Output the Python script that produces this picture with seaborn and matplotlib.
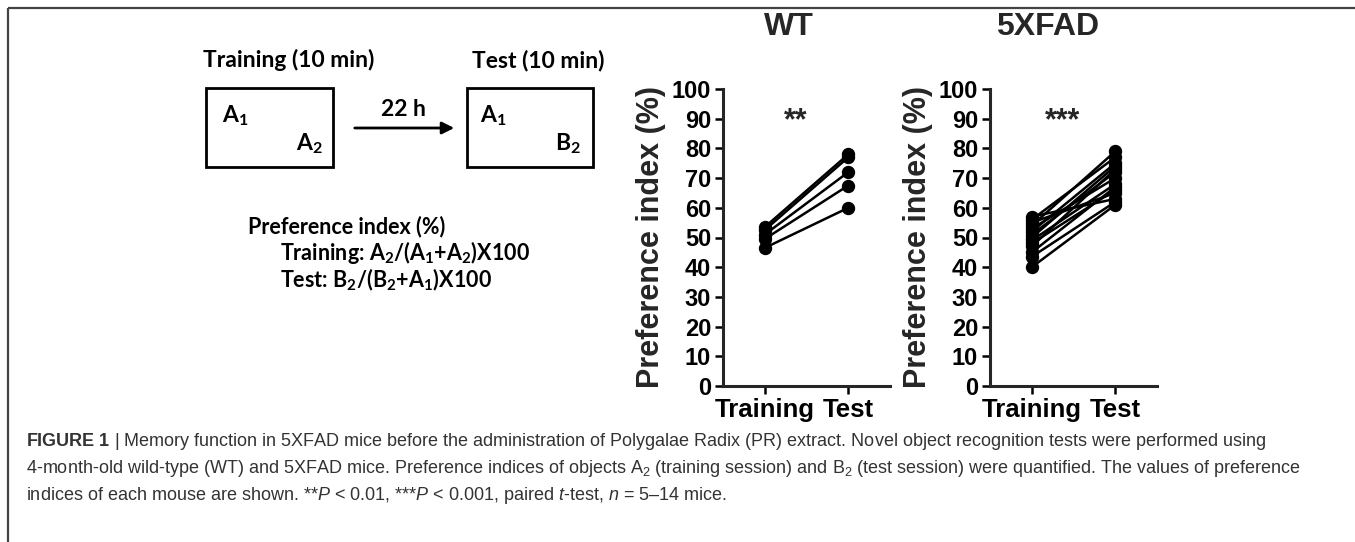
import matplotlib
matplotlib.use("Agg")
import matplotlib.pyplot as plt
from matplotlib.patches import Rectangle
import numpy as np
import pandas as pd
import seaborn as sns

# values
sessions = ["Training", "Test"]
groups = ["WT", "5XFAD"]
stars = ["**", "***"]
wt_training = [53.5, 52.5, 51.0, 49.5, 46.5]
wt_test = [78.0, 77.0, 72.0, 67.5, 60.0]
fad_training = [57.0, 56.0, 55.0, 54.0, 53.0, 52.0, 51.0, 50.0, 49.0, 48.0, 47.0, 45.0, 43.5, 40.0]
fad_test = [63.0, 77.0, 65.0, 79.0, 70.0, 75.0, 72.0, 74.0, 68.0, 66.0, 73.0, 67.0, 62.0, 61.0]
yticks = list(range(0, 101, 10))

caption_lines = [
    r"$\mathbf{FIGURE\ 1}$ | Memory function in 5XFAD mice before the administration of Polygalae Radix (PR) extract. "
    r"Novel object recognition tests were performed using",
    r"4-month-old wild-type (WT) and 5XFAD mice. Preference indices of objects A$_2$ (training session) and "
    r"B$_2$ (test session) were quantified. The values of preference",
    r"indices of each mouse are shown. **$\mathit{P}$ < 0.01, ***$\mathit{P}$ < 0.001, paired $\mathit{t}$-test, "
    r"$\mathit{n}$ = 5–14 mice.",
]


def paired_frame(train, test):
    n = len(train)
    return pd.DataFrame({
        "mouse": list(range(n)) * 2,
        "session": [sessions[0]] * n + [sessions[1]] * n,
        "value": list(train) + list(test),
    })


def sub(d):
    # subscript drawn in the text's own font
    return r"$_{\mathregular{%s}}$" % d


sns.set_style("ticks")
plt.rcParams["font.family"] = ["Liberation Sans", "DejaVu Sans"]
plt.rcParams["mathtext.fontset"] = "custom"
plt.rcParams["mathtext.rm"] = "Liberation Sans"
plt.rcParams["mathtext.it"] = "Liberation Sans:italic"
plt.rcParams["mathtext.bf"] = "Liberation Sans:bold"

W, H = 1355, 542
fig = plt.figure(figsize=(W / 100, H / 100), dpi=100)

# background layer in pixel coordinates: frame, schematic, caption
ax0 = fig.add_axes([0, 0, 1, 1])
ax0.set_xlim(0, W)
ax0.set_ylim(H, 0)
ax0.axis("off")
ax0.plot([8, 8], [8, H], color="#444444", lw=1.6, solid_capstyle="butt")
ax0.plot([8, W], [8, 8], color="#444444", lw=1.6, solid_capstyle="butt")

diag = dict(family=["Lato", "DejaVu Sans"], fontweight="bold", fontsize=15.5, va="baseline", color="black")
head = dict(diag, fontsize=16.5)
ax0.text(203, 67, "Training (10 min)", **head)
ax0.text(472, 67, "Test (10 min)", **head)
ax0.add_patch(Rectangle((206, 88), 127, 79, fill=False, lw=2, ec="black"))
ax0.add_patch(Rectangle((467, 88), 126, 79, fill=False, lw=2, ec="black"))
ax0.text(222, 122, "A" + sub(1), **head)
ax0.text(296, 150, "A" + sub(2), **head)
ax0.text(480, 122, "A" + sub(1), **head)
ax0.text(555, 150, "B" + sub(2), **head)
ax0.text(403, 116, "22 h", ha="center", **head)
ax0.annotate("", xy=(457, 128), xytext=(352, 128),
             arrowprops=dict(arrowstyle="-|>", lw=2, color="black", mutation_scale=18))
ax0.text(248, 233, "Preference index (%)", **diag)
ax0.text(280, 260, "Training: A" + sub(2) + "/(A" + sub(1) + "+A" + sub(2) + ")X100", **diag)
ax0.text(280, 287, "Test: B" + sub(2) + "/(B" + sub(2) + "+A" + sub(1) + ")X100", **diag)

for i, line in enumerate(caption_lines):
    ax0.text(26, 446 + 27 * i, line, fontsize=13, color="#333333", va="baseline")

# the two paired plots
panels = [
    (groups[0], paired_frame(wt_training, wt_test), stars[0], 723, 0.395),
    (groups[1], paired_frame(fad_training, fad_test), stars[1], 990, 0.347),
]
for name, df, star, left_px, title_x in panels:
    ax = fig.add_axes([left_px / W, 1 - 386 / H, 167 / W, 297 / H])
    ax.patch.set_alpha(0)
    sns.lineplot(data=df, x="session", y="value", units="mouse", estimator=None,
                 color="black", lw=1.8, marker="o", markersize=8.6,
                 markeredgecolor="black", markeredgewidth=1, sort=False, ax=ax)
    ax.set_xlim(-0.5, 1.5)
    ax.set_ylim(0, 100)
    ax.set_yticks(yticks)
    ax.set_xlabel("")
    ax.set_ylabel("Preference index (%)", fontsize=22, fontweight="bold", labelpad=4)
    sns.despine(ax=ax)
    for side in ["left", "bottom"]:
        ax.spines[side].set_linewidth(2.2)
    ax.tick_params(width=1.8, length=6, pad=2.5, colors="black")
    ax.tick_params(axis="y", labelsize=17)
    ax.tick_params(axis="x", labelsize=18.5)
    for lab in ax.get_xticklabels() + ax.get_yticklabels():
        lab.set_fontweight("bold")
    ax.text(title_x, 1.182, name, transform=ax.transAxes, ha="center", va="baseline",
            fontsize=23, fontweight="bold")
    ax.text(0.37, 89, star, ha="center", va="center", fontsize=22, fontweight="bold")

fig.savefig("out.png", dpi=100)
plt.close(fig)
